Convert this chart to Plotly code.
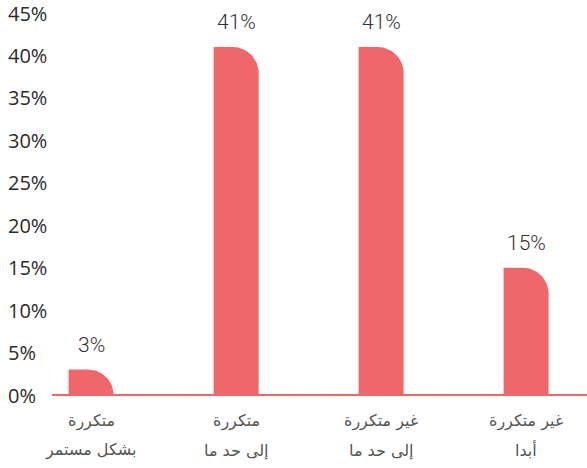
import numpy as np
import plotly.graph_objects as go

# Survey answers and their shares (%)
cat_line1 = ["متكررة", "متكررة", "غير متكررة", "غير متكررة"]
cat_line2 = ["بشكل مستمر", "إلى حد ما", "إلى حد ما", "أبدا"]
values = [3, 41, 41, 15]
value_labels = ["3%", "41%", "41%", "15%"]

y_tick_vals = [0, 5, 10, 15, 20, 25, 30, 35, 40, 45]
y_tick_text = ["0%", "5%", "10%", "15%", "20%", "25%", "30%", "35%", "40%", "45%"]

BAR_COLOR = "#EF676A"
W, H = 587, 468
M_L, M_R, M_T, M_B = 52, 0, 13, 73
X_RANGE = [-0.27, 3.42]
Y_RANGE = [0, 45]

# pixel -> data conversion, used for the rounded top-right corner
px_per_x = (W - M_L - M_R) / (X_RANGE[1] - X_RANGE[0])
px_per_y = (H - M_T - M_B) / (Y_RANGE[1] - Y_RANGE[0])
BAR_W_PX = 45
CORNER_PX = 26

fig = go.Figure()

for i, v in enumerate(values):
    hw = BAR_W_PX / px_per_x / 2
    r_px = min(CORNER_PX, v * px_per_y)
    rx = r_px / px_per_x
    ry = r_px / px_per_y
    theta = np.linspace(np.pi / 2, 0, 30)
    xs = [i - hw, i - hw, i + hw - rx] + list(i + hw - rx + rx * np.cos(theta)) + [i + hw, i - hw]
    ys = [0, v, v] + list(v - ry + ry * np.sin(theta)) + [0, 0]
    fig.add_trace(go.Scatter(
        x=xs, y=ys, mode="lines", fill="toself",
        fillcolor=BAR_COLOR, line=dict(width=0, color=BAR_COLOR),
        hoverinfo="skip", showlegend=False,
    ))

annotations = []
# value labels above bars
for i, (v, t) in enumerate(zip(values, value_labels)):
    annotations.append(dict(
        x=i, y=v, xref="x", yref="y", text=t, showarrow=False,
        yanchor="middle", yshift=25,
        font=dict(family="Roboto", size=21, color="#333333", weight=300),
    ))
# two-line category labels under the axis
for i, (a, b) in enumerate(zip(cat_line1, cat_line2)):
    annotations.append(dict(
        x=i, y=0, xref="x", yref="y", text=a, showarrow=False,
        yanchor="middle", yshift=-26,
        font=dict(family="DejaVu Sans", size=16, color="#555555"),
    ))
    annotations.append(dict(
        x=i, y=0, xref="x", yref="y", text=b, showarrow=False,
        yanchor="middle", yshift=-55,
        font=dict(family="DejaVu Sans", size=16, color="#555555"),
    ))
# left-aligned percentage ticks
for v, t in zip(y_tick_vals, y_tick_text):
    annotations.append(dict(
        x=0, y=v, xref="paper", yref="y", text=t, showarrow=False,
        xanchor="left", yanchor="middle", xshift=-45, borderpad=0,
        font=dict(family="Open Sans", size=20, color="#2b2b2b"),
    ))

fig.update_layout(
    width=W, height=H,
    margin=dict(l=M_L, r=M_R, t=M_T, b=M_B),
    paper_bgcolor="white", plot_bgcolor="white",
    showlegend=False,
    annotations=annotations,
    xaxis=dict(range=X_RANGE, showgrid=False, zeroline=False,
               showticklabels=False, fixedrange=True),
    yaxis=dict(range=Y_RANGE, showgrid=False, zeroline=True,
               zerolinecolor=BAR_COLOR, zerolinewidth=2,
               showticklabels=False, fixedrange=True),
)

fig.write_html("out.html")
